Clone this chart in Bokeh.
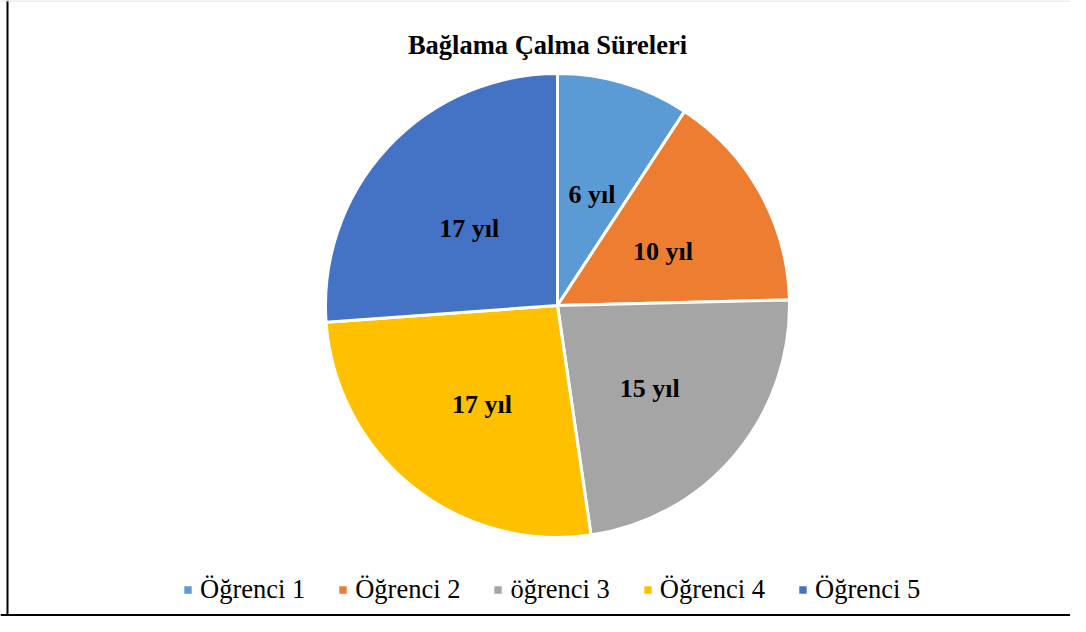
import math
from bokeh.plotting import figure
from bokeh.models import Range1d, Label, Span, Legend, LegendItem, ColumnDataSource
from bokeh.core.properties import value
from bokeh.embed import file_html
from bokeh.resources import INLINE

# ---- data ----
title_text = "Bağlama Çalma Süreleri"
students = ["Öğrenci 1", "Öğrenci 2", "öğrenci 3", "Öğrenci 4", "Öğrenci 5"]
years = [6, 10, 15, 17, 17]
slice_labels = ["6 yıl", "10 yıl", "15 yıl", "17 yıl", "17 yıl"]
colors = ["#5B9BD5", "#ED7D31", "#A5A5A5", "#FFC000", "#4472C4"]

# ---- layout ----
W, H = 1070, 616
CX, CY, R = 557, 311, 232
LABEL_FRAC = 0.52
LABEL_DY = -5
FONT = "Liberation Serif"

total = sum(years)
starts, ends, lx, ly = [], [], [], []
cum = 0
for v in years:
    a0 = math.pi / 2 - 2 * math.pi * cum / total
    cum += v
    a1 = math.pi / 2 - 2 * math.pi * cum / total
    starts.append(a0)
    ends.append(a1)
    mid = (a0 + a1) / 2
    lx.append(CX + LABEL_FRAC * R * math.cos(mid))
    ly.append(CY + LABEL_FRAC * R * math.sin(mid) + LABEL_DY)

src = ColumnDataSource(dict(
    x=[CX] * len(years), y=[CY] * len(years),
    start=starts, end=ends, color=colors,
    lx=lx, ly=ly, lab=slice_labels, name=students,
))

p = figure(width=W, height=H, x_range=Range1d(0, W), y_range=Range1d(0, H),
           x_axis_type=None, y_axis_type=None, output_backend="svg",
           toolbar_location=None, min_border=0)
p.grid.visible = False
p.outline_line_color = None
p.background_fill_color = "white"
p.border_fill_color = "white"

r = p.wedge(x="x", y="y", radius=R, start_angle="start", end_angle="end",
            direction="clock", fill_color="color", line_color="white",
            line_width=3, source=src)

p.text(x="lx", y="ly", text="lab", source=src, text_font=value(FONT),
       text_font_style="bold", text_font_size="26px", text_align="center",
       text_baseline="middle", text_color="black")

p.add_layout(Label(x=547, y=572, text=title_text, text_font=FONT,
                   text_font_style="bold", text_font_size="26.5px",
                   text_align="center", text_baseline="alphabetic",
                   text_color="black"))

items = [LegendItem(label=s, renderers=[r], index=i) for i, s in enumerate(students)]
legend = Legend(items=items, orientation="horizontal", location=(181, 11),
                label_text_font=FONT, label_text_font_size="26.5px",
                label_text_color="black", glyph_width=13, glyph_height=13,
                label_standoff=6, spacing=31, padding=0, margin=0,
                border_line_color=None, background_fill_alpha=0)
p.add_layout(legend)

p.add_layout(Span(location=7, dimension="height", line_color="black", line_width=2))
p.add_layout(Span(location=1.5, dimension="width", line_color="black", line_width=2))
p.add_layout(Span(location=H - 0.5, dimension="width", line_color="#d9d9d9", line_width=1))

open("out.html", "w").write(file_html(p, INLINE))
